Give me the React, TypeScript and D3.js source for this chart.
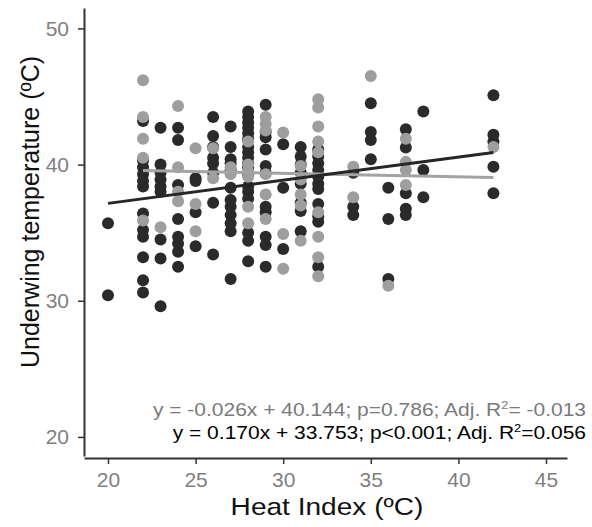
import React, { useEffect, useRef } from "react";
import * as d3 from "d3";

// Heat index (ºC) vs underwing temperature (ºC)
const darkPoints: [number, number][] = [
  [20, 35.7], [20, 30.4],
  [22, 43.2], [22, 40.3], [22, 39.8], [22, 39.3], [22, 38.8], [22, 38.4], [22, 36.4], [22, 35.2], [22, 34.7], [22, 33.2], [22, 31.5], [22, 30.6],
  [23, 42.7], [23, 40.0], [23, 39.4], [23, 38.9], [23, 38.4], [23, 38.0], [23, 34.5], [23, 33.1], [23, 29.6],
  [24, 42.7], [24, 41.8], [24, 38.5], [24, 36.0], [24, 34.7], [24, 34.2], [24, 33.6], [24, 32.5],
  [25, 39.0], [25, 38.8], [25, 36.5], [25, 34.0],
  [26, 43.5], [26, 42.1], [26, 41.3], [26, 40.5], [26, 40.1], [26, 39.4], [26, 37.2], [26, 33.4],
  [27, 42.8], [27, 41.3], [27, 40.4], [27, 40.1], [27, 39.6], [27, 38.3], [27, 37.4], [27, 36.9], [27, 36.3], [27, 35.7], [27, 35.1], [27, 31.6],
  [28, 43.9], [28, 43.5], [28, 43.1], [28, 42.7], [28, 42.3], [28, 41.9], [28, 41.3], [28, 40.9], [28, 40.5], [28, 40.1], [28, 39.8], [28, 39.3], [28, 38.4], [28, 38.0], [28, 37.5], [28, 35.0], [28, 34.4], [28, 32.9],
  [29, 44.4], [29, 42.4], [29, 42.0], [29, 41.1], [29, 39.9], [29, 39.4], [29, 36.9], [29, 36.5], [29, 34.7], [29, 34.1], [29, 32.5],
  [30, 41.5], [30, 38.3], [30, 33.8],
  [31, 41.3], [31, 40.6], [31, 40.0], [31, 39.4], [31, 38.6], [31, 37.2], [31, 36.6], [31, 35.1],
  [32, 41.1], [32, 40.6], [32, 40.1], [32, 39.6], [32, 39.1], [32, 38.6], [32, 38.2], [32, 37.1], [32, 36.2], [32, 35.8], [32, 32.5],
  [34, 39.4], [34, 36.9], [34, 36.3],
  [35, 44.5], [35, 42.4], [35, 41.8], [35, 40.4],
  [36, 38.3], [36, 36.0], [36, 31.6],
  [37, 42.6], [37, 41.25], [37, 37.9], [37, 36.75], [37, 36.3],
  [38, 43.9], [38, 39.6], [38, 37.6],
  [42, 45.1], [42, 42.2], [42, 41.7], [42, 39.85], [42, 37.9],
];

const grayPoints: [number, number][] = [
  [22, 46.2], [22, 43.5], [22, 41.9], [22, 40.5], [22, 35.9],
  [23, 35.4],
  [24, 44.3], [24, 39.8], [24, 38.0], [24, 37.3],
  [25, 41.2], [25, 37.1], [25, 35.1],
  [26, 41.2], [26, 39.0],
  [27, 39.3], [27, 39.8],
  [28, 41.7], [28, 40.0], [28, 39.5], [28, 39.1], [28, 36.9], [28, 35.7],
  [29, 43.5], [29, 43.0], [29, 42.5], [29, 39.3], [29, 37.8], [29, 36.0],
  [30, 42.35], [30, 34.9], [30, 32.35],
  [31, 39.9], [31, 38.9], [31, 37.8], [31, 37.0], [31, 34.4],
  [32, 44.8], [32, 44.2], [32, 42.8], [32, 41.7], [32, 40.9], [32, 36.5], [32, 34.7], [32, 33.2], [32, 31.8],
  [34, 39.85], [34, 37.6],
  [35, 46.5],
  [36, 31.1],
  [37, 41.9], [37, 40.2], [37, 39.6], [37, 38.5],
  [42, 41.3],
];

// regression fits: [slope, intercept, xStart, xEnd]
const grayFit = [-0.026, 40.144, 22, 42];
const darkFit = [0.17, 33.753, 20, 42];

const xTicks = [20, 25, 30, 35, 40, 45];
const yTicks = [20, 30, 40, 50];

const grayLabel = ["y = -0.026x + 40.144; p=0.786; Adj. R", "2", "= -0.013"];
const darkLabel = ["y = 0.170x + 33.753; p<0.001; Adj. R", "2", "=0.056"];
const xTitle = "Heat Index (ºC)";
const yTitle = "Underwing temperature (ºC)";

const W = 592;
const H = 527;
const DARK = "#2a2a2a";
const GRAY = "#9e9e9e";

export default function App() {
  const ref = useRef<SVGSVGElement | null>(null);

  useEffect(() => {
    const svg = d3.select(ref.current);
    svg.selectAll("*").remove();

    const x = d3.scaleLinear().domain([18.63, 46.2]).range([84, 567]);
    const y = d3.scaleLinear().domain([18.6, 51.5]).range([456, 8]);

    const font = "'Liberation Sans', Arial, sans-serif";

    // Points
    svg.append("g")
      .selectAll("circle")
      .data(darkPoints)
      .join("circle")
      .attr("cx", (d) => x(d[0]))
      .attr("cy", (d) => y(d[1]))
      .attr("r", 6)
      .attr("fill", DARK);

    svg.append("g")
      .selectAll("circle")
      .data(grayPoints)
      .join("circle")
      .attr("cx", (d) => x(d[0]))
      .attr("cy", (d) => y(d[1]))
      .attr("r", 6)
      .attr("fill", GRAY);

    // Fit lines
    const drawFit = (fit: number[], color: string) => {
      const [m, b, x0, x1] = fit;
      const gen = d3.line<number>().x((v) => x(v)).y((v) => y(m * v + b));
      svg.append("path")
        .attr("d", gen([x0, x1]))
        .attr("stroke", color)
        .attr("stroke-width", 3)
        .attr("fill", "none");
    };
    drawFit(grayFit, "#a3a3a3");
    drawFit(darkFit, "#262626");

    // Axes
    const xAxis = svg.append("g")
      .attr("transform", `translate(0,${y(18.6) + 2})`)
      .call(d3.axisBottom(x).tickValues(xTicks).tickSize(6).tickSizeOuter(0).tickPadding(8));
    const yAxis = svg.append("g")
      .attr("transform", `translate(${x(18.63)},0)`)
      .call(d3.axisLeft(y).tickValues(yTicks).tickSize(6).tickSizeOuter(0).tickPadding(9));

    [xAxis, yAxis].forEach((g) => {
      g.select(".domain").attr("stroke", "#333").attr("stroke-width", 2);
      g.selectAll(".tick line").attr("stroke", "#333").attr("stroke-width", 1.5);
      g.selectAll(".tick text")
        .attr("fill", "#7f7f7f")
        .style("font-family", font)
        .style("font-size", "21px");
    });

    // Axis titles
    svg.append("text")
      .attr("transform", "translate(327,515) scale(1.17,1)")
      .attr("text-anchor", "middle")
      .style("font-family", font)
      .style("font-size", "24px")
      .attr("fill", "#111")
      .text(xTitle);

    svg.append("text")
      .attr("transform", `translate(39,212) rotate(-90)`)
      .attr("text-anchor", "middle")
      .style("font-family", font)
      .style("font-size", "25px")
      .attr("fill", "#111")
      .text(yTitle);

    // Regression labels
    const addLabel = (parts: string[], yPos: number, color: string) => {
      const t = svg.append("text")
        .attr("transform", `translate(586,${yPos}) scale(1.167,1)`)
        .attr("text-anchor", "end")
        .style("font-family", font)
        .style("font-size", "18px")
        .attr("fill", color);
      t.append("tspan").text(parts[0]);
      t.append("tspan").attr("dy", -7).style("font-size", "11px").text(parts[1]);
      t.append("tspan").attr("dy", 7).text(parts[2]);
    };
    addLabel(grayLabel, 416, "#7a7a7a");
    addLabel(darkLabel, 439, "#000");
  }, []);

  return (
    <svg
      ref={ref}
      width={W}
      height={H}
      style={{ position: "absolute", left: 0, top: 0, background: "#fff" }}
    />
  );
}
